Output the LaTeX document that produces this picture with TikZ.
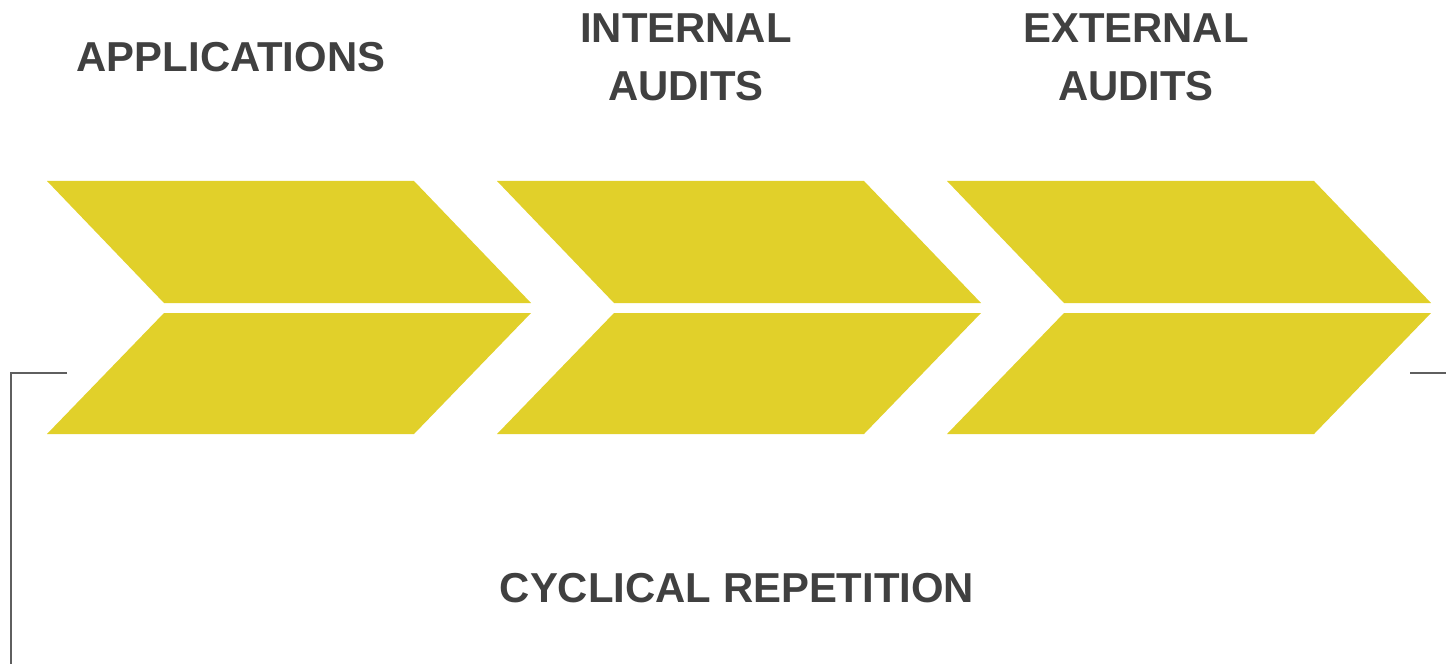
\documentclass[tikz,border=0pt]{standalone}
\usepackage{fontspec}
\setmainfont{Liberation Sans}
\usepackage{tikz}
\usetikzlibrary{shapes,arrows,positioning,calc}
\usepackage{xcolor}
\definecolor{chevyellow}{RGB}{225,208,42}
\definecolor{textgray}{RGB}{64,64,64}
\definecolor{linegray}{RGB}{95,95,95}

\begin{document}
\begin{tikzpicture}[x=0.01cm, y=-0.01cm,
    heading/.style={text=textgray, font=\fontsize{11.9}{16.6}\selectfont\bfseries, align=center, inner sep=0pt},
    chevron/.style={fill=chevyellow, draw=none},
    loopline/.style={draw=linegray, line width=0.7pt}]

    \useasboundingbox (0,0) rectangle (1446,664);

    % chevrons, upper and lower halves
    \fill[chevron] (47,181) -- (414,181) -- (531,303) -- (164,303) -- cycle;
    \fill[chevron] (164,313) -- (531,313) -- (414,434) -- (47,434) -- cycle;
    \fill[chevron] (497,181) -- (864,181) -- (981,303) -- (614,303) -- cycle;
    \fill[chevron] (614,313) -- (981,313) -- (864,434) -- (497,434) -- cycle;
    \fill[chevron] (947,181) -- (1314,181) -- (1431,303) -- (1064,303) -- cycle;
    \fill[chevron] (1064,313) -- (1431,313) -- (1314,434) -- (947,434) -- cycle;

    \node[heading] (apps) at (231,57) {APPLICATIONS};
    \node[heading] (internal) at (686,57) {INTERNAL\\AUDITS};
    \node[heading] (external) at (1136,57) {EXTERNAL\\AUDITS};
    \node[heading] (cycle) at (737,588) {CYCLICAL REPETITION};

    % loop back line
    \coordinate (loopstart) at (67,373);
    \coordinate (loopcorner) at (11,373);
    \coordinate (loopend) at (11,664);
    \coordinate (returnstart) at (1410,373);
    \coordinate (returnend) at (1446,373);
    \draw[loopline] (loopstart) -- (loopcorner) -- (loopend);
    \draw[loopline] (returnstart) -- (returnend);
\end{tikzpicture}
\end{document}
